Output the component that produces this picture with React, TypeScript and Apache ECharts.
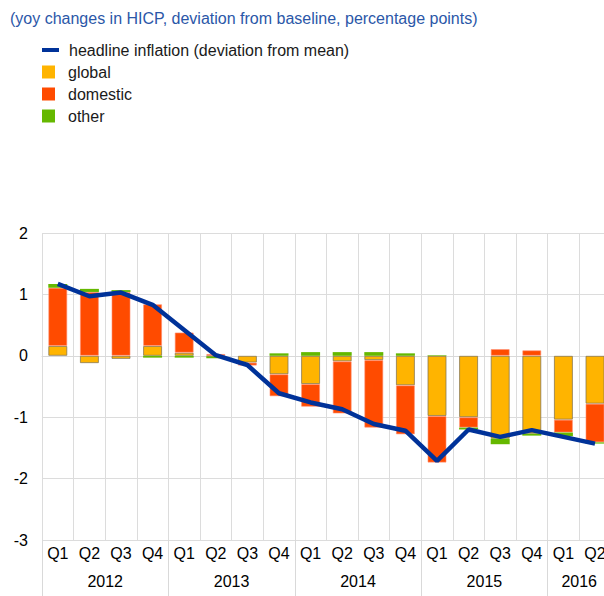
import React, { useEffect, useRef } from "react";
import * as echarts from "echarts";

const quarters = ["Q1","Q2","Q3","Q4","Q1","Q2","Q3","Q4","Q1","Q2","Q3","Q4","Q1","Q2","Q3","Q4","Q1","Q2"];
const years = ["2012", "2013", "2014", "2015", "2016"];
const quartersPerYear = [4, 4, 4, 4, 2];

const globalVals = [0.16, -0.12, -0.05, 0.16, 0.05, -0.01, -0.11, -0.30, -0.46, -0.09, -0.07, -0.48, -0.98, -1.00, -1.35, -1.27, -1.04, -0.78];
const domesticVals = [0.95, 1.04, 1.04, 0.68, 0.33, 0.03, -0.05, -0.36, -0.37, -0.85, -1.10, -0.80, -0.76, -0.17, 0.11, 0.09, -0.21, -0.63];
const otherVals = [0.06, 0.05, 0.03, -0.03, -0.03, -0.03, 0.00, 0.04, 0.06, 0.06, 0.06, 0.04, 0.01, -0.03, -0.09, -0.03, -0.06, -0.02];
const headlineVals = [1.17, 0.97, 1.03, 0.83, 0.42, 0.01, -0.15, -0.61, -0.76, -0.87, -1.11, -1.22, -1.71, -1.20, -1.32, -1.21, -1.32, -1.43];

const yTicks = { min: -3, max: 2, interval: 1 };

const FONT = "'Liberation Sans', Arial, sans-serif";

export default function App() {
  const ref = useRef<HTMLDivElement>(null);
  useEffect(() => {
    if (!ref.current) return;
    const chart = echarts.init(ref.current, null, { renderer: "svg" });
    const boundaries: number[] = [];
    const centers: number[] = [];
    let acc = 0;
    quartersPerYear.forEach((n) => {
      boundaries.push(acc);
      centers.push(acc + n / 2);
      acc += n;
    });
    const catW = 31.6;
    chart.setOption({
      animation: false,
      textStyle: { fontFamily: FONT },
      title: {
        text: "(yoy changes in HICP, deviation from baseline, percentage points)",
        left: 10,
        top: 10,
        padding: 0,
        textStyle: { fontSize: 16, fontWeight: "normal", color: "#2b57a8", fontFamily: FONT },
      },
      legend: [
        {
          data: ["headline inflation (deviation from mean)"],
          orient: "vertical",
          left: 42,
          top: 42,
          padding: 0,
          icon: "rect",
          itemWidth: 17,
          itemHeight: 4,
          selectedMode: false,
          itemStyle: { borderWidth: 0 },
          textStyle: { fontSize: 16, color: "#1a1a1a", lineHeight: 16, padding: [0, 0, 0, 5], fontFamily: FONT },
        },
        {
          data: ["global", "domestic", "other"],
          orient: "vertical",
          left: 42,
          top: 64,
          padding: 0,
          icon: "rect",
          itemWidth: 13,
          itemHeight: 13,
          itemGap: 6,
          selectedMode: false,
          itemStyle: { borderWidth: 0 },
          textStyle: { fontSize: 16, color: "#1a1a1a", lineHeight: 16, padding: [0, 0, 0, 8], fontFamily: FONT },
        },
      ],
      grid: { left: 42, top: 233, width: catW * quarters.length, height: 307, containLabel: false },
      xAxis: [
        {
          type: "category",
          data: quarters,
          position: "bottom",
          axisLine: { show: true, lineStyle: { color: "#d9d9d9", width: 1 } },
          axisTick: { show: false },
          axisLabel: { fontSize: 16, color: "#000", margin: 5, interval: 0, fontFamily: FONT },
          splitLine: { show: true, interval: 0, lineStyle: { color: "#dcdcdc", width: 1 } },
        },
        {
          type: "value",
          min: 0,
          max: quarters.length,
          position: "bottom",
          axisLine: { show: false },
          splitLine: { show: false },
          axisTick: {
            show: true,
            customValues: boundaries,
            length: 60,
            lineStyle: { color: "#d9d9d9", width: 1 },
          },
          axisLabel: {
            customValues: centers,
            margin: 33,
            fontSize: 16,
            color: "#000",
            fontFamily: FONT,
            formatter: (v: number) => {
              const i = centers.findIndex((c) => Math.abs(c - v) < 1e-6);
              return i >= 0 ? years[i] : "";
            },
          },
        },
      ],
      yAxis: {
        type: "value",
        min: yTicks.min,
        max: yTicks.max,
        interval: yTicks.interval,
        axisLine: { show: false },
        axisTick: { show: false },
        axisLabel: { fontSize: 16, color: "#000", margin: 14, fontFamily: FONT },
        splitLine: { show: true, lineStyle: { color: "#dcdcdc", width: 1 } },
      },
      series: [
        {
          name: "global",
          type: "bar",
          stack: "contrib",
          barWidth: 19,
          data: globalVals,
          itemStyle: { color: "#FFB400", borderColor: "rgba(130,115,80,0.75)", borderWidth: 1 },
        },
        {
          name: "domestic",
          type: "bar",
          stack: "contrib",
          barWidth: 19,
          data: domesticVals,
          itemStyle: { color: "#FF4B00", borderColor: "rgba(255,140,110,0.6)", borderWidth: 1 },
        },
        {
          name: "other",
          type: "bar",
          stack: "contrib",
          barWidth: 19,
          data: otherVals,
          itemStyle: { color: "#65B800" },
        },
        {
          name: "headline inflation (deviation from mean)",
          type: "line",
          data: headlineVals,
          symbol: "none",
          showSymbol: false,
          z: 10,
          itemStyle: { color: "#003299" },
          lineStyle: { color: "#003299", width: 4.5 },
        },
      ],
    });
    return () => chart.dispose();
  }, []);
  return (
    <div style={{ position: "fixed", left: 0, top: 0, width: 604, height: 596, overflow: "hidden", background: "#fff" }}>
      <div ref={ref} style={{ width: 640, height: 596 }} />
    </div>
  );
}
